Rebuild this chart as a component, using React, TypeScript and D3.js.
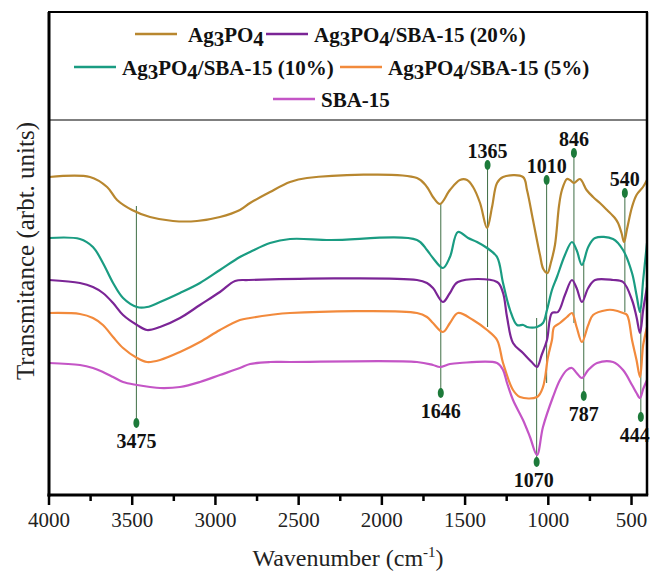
import React from "react";
import * as d3 from "d3";

// ---------- data ----------
const seriesNames = ["Ag3PO4", "Ag3PO4/SBA-15 (20%)", "Ag3PO4/SBA-15 (10%)", "Ag3PO4/SBA-15 (5%)", "SBA-15"];
const seriesColors = ["#b8872f", "#7b2596", "#1a9c82", "#f28a3c", "#c455c6"];

// [wavenumber (cm-1), transmittance (arb. units, offset)]
const ag3po4: [number, number][] = [
  [4000, 318], [3754, 318], [3651, 308], [3591, 295], [3501, 285], [3393, 278], [3255, 274], [3111, 274],
  [2973, 278], [2853, 285], [2792, 292], [2672, 303], [2552, 313], [2450, 317], [1789, 317], [1729, 308],
  [1693, 298], [1651, 291], [1591, 305], [1531, 315], [1488, 315], [1452, 308], [1410, 292], [1368, 267],
  [1338, 288], [1308, 312], [1272, 318], [1152, 318], [1128, 305], [1092, 275], [1050, 240], [1030, 226],
  [1005, 222], [985, 232], [960, 250], [935, 290], [918, 305], [888, 316], [870, 315], [846, 312],
  [810, 316], [770, 305], [731, 298], [690, 292], [647, 285], [600, 277], [581, 272], [560, 262],
  [545, 253], [527, 266], [497, 288], [470, 300], [431, 308], [407, 315],
];
const sba20: [number, number][] = [
  [4000, 215], [3814, 212], [3736, 208], [3676, 202], [3615, 192], [3555, 180], [3471, 170], [3411, 165],
  [3333, 168], [3213, 177], [3093, 190], [2973, 203], [2882, 214], [2800, 215], [1789, 215], [1729, 212],
  [1693, 207], [1633, 193], [1591, 202], [1543, 213], [1308, 213], [1272, 202], [1248, 178], [1212, 152],
  [1152, 142], [1100, 133], [1068, 128], [1040, 140], [1008, 155], [978, 182], [942, 183], [900, 200],
  [858, 215], [830, 207], [798, 193], [760, 207], [719, 215], [611, 215], [551, 213], [497, 195],
  [470, 178], [449, 162], [430, 185], [407, 208],
];
const sba10: [number, number][] = [
  [4000, 257], [3814, 256], [3736, 248], [3676, 232], [3615, 212], [3555, 197], [3471, 188], [3411, 188],
  [3333, 193], [3213, 202], [3093, 212], [2973, 225], [2853, 238], [2792, 243], [2672, 252], [2552, 256],
  [2312, 255], [1789, 255], [1729, 245], [1693, 237], [1633, 227], [1591, 238], [1543, 263], [1482, 257],
  [1428, 253], [1368, 247], [1308, 238], [1272, 212], [1230, 185], [1188, 170], [1150, 170], [1128, 168],
  [1068, 168], [1032, 172], [1008, 185], [978, 205], [948, 218], [900, 240], [858, 253], [830, 245],
  [798, 230], [760, 248], [719, 257], [611, 256], [551, 245], [497, 222], [470, 200], [449, 183],
  [430, 215], [407, 252],
];
const sba5: [number, number][] = [
  [4000, 182], [3814, 181], [3736, 177], [3676, 170], [3615, 158], [3555, 147], [3471, 137], [3411, 133],
  [3333, 135], [3213, 143], [3093, 153], [2973, 165], [2853, 175], [2792, 177], [2672, 180], [2552, 182],
  [1789, 182], [1729, 178], [1693, 172], [1633, 163], [1591, 172], [1543, 182], [1452, 175], [1368, 165],
  [1308, 155], [1272, 132], [1212, 105], [1170, 98], [1068, 98], [1032, 108], [1002, 138], [978, 155],
  [965, 168], [930, 172], [888, 178], [858, 182], [830, 168], [798, 153], [760, 170], [731, 180],
  [647, 185], [611, 185], [551, 182], [527, 180], [497, 155], [470, 135], [449, 118], [430, 150], [407, 168],
];
const sba15: [number, number][] = [
  [4000, 132], [3814, 130], [3736, 127], [3676, 123], [3615, 118], [3555, 113], [3471, 110], [3393, 108],
  [3333, 107], [3213, 108], [3093, 113], [2973, 120], [2853, 127], [2792, 131], [2672, 133], [2552, 133],
  [1789, 133], [1693, 130], [1651, 128], [1591, 131], [1531, 132], [1308, 132], [1272, 125], [1248, 112],
  [1212, 95], [1152, 75], [1110, 58], [1068, 40], [1032, 68], [972, 98], [930, 115], [888, 125],
  [858, 127], [830, 122], [798, 117], [760, 125], [707, 132], [611, 133], [551, 125], [497, 110],
  [470, 102], [449, 97], [430, 106], [407, 115],
];
const seriesData = [ag3po4, sba20, sba10, sba5, sba15];
const drawOrder = [0, 2, 1, 3, 4];

// peak annotations: wavenumber, line top/bottom (T units), dot (T units), label side
const peakWavenumbers = [3475, 1646, 1365, 1010, 846, 540, 787, 444, 1070];
const peakLineEnd = [289, 291, 168, 112, 172, 183, 232, 185, 177];
const peakDot = [72, 102, 330, 315, 342, 302, 99, 78, 33];
const peakLabelAbove = [false, false, true, true, true, true, false, false, false];
const peakLabelShift = [0, 0, 0, 0, 0, 0, 0, -6, -3];

const majorTicks = [4000, 3500, 3000, 2500, 2000, 1500, 1000, 500];
const minorTicks = [3750, 3250, 2750, 2250, 1750, 1250, 750];

// ---------- layout ----------
const W = 650, H = 573;
const L = 49, R = 647, TOP = 12, LEG = 120, B = 495;
const serif = "'Liberation Serif', 'Times New Roman', Times, serif";

const legendItems = [
  { i: 0, x: 135, y: 34 },
  { i: 1, x: 266, y: 34 },
  { i: 2, x: 74, y: 67 },
  { i: 3, x: 340, y: 67 },
  { i: 4, x: 273, y: 99 },
];

function LegendLabel({ name, x, y }: { name: string; x: number; y: number }) {
  const parts: React.ReactNode[] = [];
  if (name.startsWith("Ag3PO4")) {
    parts.push(<tspan key="a">Ag</tspan>);
    parts.push(<tspan key="b" dy={4}>3</tspan>);
    parts.push(<tspan key="c" dy={-4}>PO</tspan>);
    parts.push(<tspan key="d" dy={4}>4</tspan>);
    const rest = name.slice(6);
    if (rest) parts.push(<tspan key="e" dy={-4}>{rest}</tspan>);
  } else {
    parts.push(<tspan key="a">{name}</tspan>);
  }
  return (
    <text x={x} y={y} fontFamily={serif} fontWeight="bold" fontSize={21} fill="#111">
      {parts}
    </text>
  );
}

export default function App() {
  const x = d3.scaleLinear().domain([4000, 407]).range([L, R]);
  const y = d3.scaleLinear().domain([0, 375]).range([B, LEG]);
  const line = d3
    .line<[number, number]>()
    .x((d) => x(d[0]))
    .y((d) => y(d[1]))
    .curve(d3.curveCatmullRom.alpha(0.5));

  return (
    <svg width={W} height={H} style={{ position: "absolute", left: 0, top: 0, background: "#fff" }}>
      <defs>
        <clipPath id="plot">
          <rect x={L} y={LEG} width={R - L} height={B - LEG} />
        </clipPath>
      </defs>
      <rect x={0} y={0} width={W} height={H} fill="#fff" />

      {/* peak guide lines */}
      {peakWavenumbers.map((wn, k) => (
        <line key={"pl" + k} x1={x(wn)} x2={x(wn)} y1={y(peakLineEnd[k])} y2={y(peakDot[k])}
          stroke="#3f6e45" strokeWidth={1} />
      ))}

      {/* spectra */}
      <g clipPath="url(#plot)">
        {drawOrder.map((i) => (
          <path key={i} d={line(seriesData[i]) || ""} fill="none" stroke={seriesColors[i]} strokeWidth={2.2}
            strokeLinejoin="round" />
        ))}
      </g>

      {/* peak dots + labels */}
      {peakWavenumbers.map((wn, k) => {
        const cx = x(wn);
        const cy = y(peakDot[k]);
        const ly = peakLabelAbove[k] ? cy - 7 : cy + 25;
        return (
          <g key={"pd" + k}>
            <ellipse cx={cx} cy={cy} rx={3} ry={5} fill="#1d7a3a" />
            <text x={cx + peakLabelShift[k]} y={ly} textAnchor="middle" fontFamily={serif} fontWeight="bold"
              fontSize={20} fill="#111">{wn}</text>
          </g>
        );
      })}

      {/* frame */}
      <line x1={L} x2={R} y1={LEG} y2={LEG} stroke="#555" strokeWidth={1.3} />
      <line x1={L - 1} x2={R + 1} y1={TOP} y2={TOP} stroke="#000" strokeWidth={2} />
      <line x1={R} x2={R} y1={TOP} y2={B} stroke="#000" strokeWidth={2.5} />
      <line x1={L} x2={L} y1={TOP} y2={B + 1.5} stroke="#000" strokeWidth={3} />
      <line x1={L - 1.5} x2={R + 1.2} y1={B} y2={B} stroke="#000" strokeWidth={3} />

      {/* ticks */}
      {majorTicks.map((t) => (
        <g key={"mt" + t}>
          <line x1={x(t)} x2={x(t)} y1={B} y2={B + 10} stroke="#000" strokeWidth={2.5} />
          <text x={x(t)} y={527} textAnchor="middle" fontFamily={serif} fontSize={21} fill="#222">{t}</text>
        </g>
      ))}
      {minorTicks.map((t) => (
        <line key={"nt" + t} x1={x(t)} x2={x(t)} y1={B} y2={B + 6} stroke="#000" strokeWidth={2.5} />
      ))}

      {/* axis titles */}
      <text x={(L + R) / 2} y={566} textAnchor="middle" fontFamily={serif} fontSize={24} fill="#222">
        Wavenumber (cm<tspan dy={-9} fontSize={15}>-1</tspan><tspan dy={9}>)</tspan>
      </text>
      <text transform="translate(34,251) rotate(-90)" textAnchor="middle" fontFamily={serif} fontSize={25} fill="#222">
        Transmitance (arbt. units)
      </text>

      {/* legend */}
      {legendItems.map(({ i, x: lx, y: ly }) => (
        <g key={"lg" + i}>
          <line x1={lx} x2={lx + 42} y1={ly} y2={ly} stroke={seriesColors[i]} strokeWidth={2.5} />
          <LegendLabel name={seriesNames[i]} x={lx + (i === 0 ? 53 : 48)} y={ly + 8} />
        </g>
      ))}
    </svg>
  );
}
